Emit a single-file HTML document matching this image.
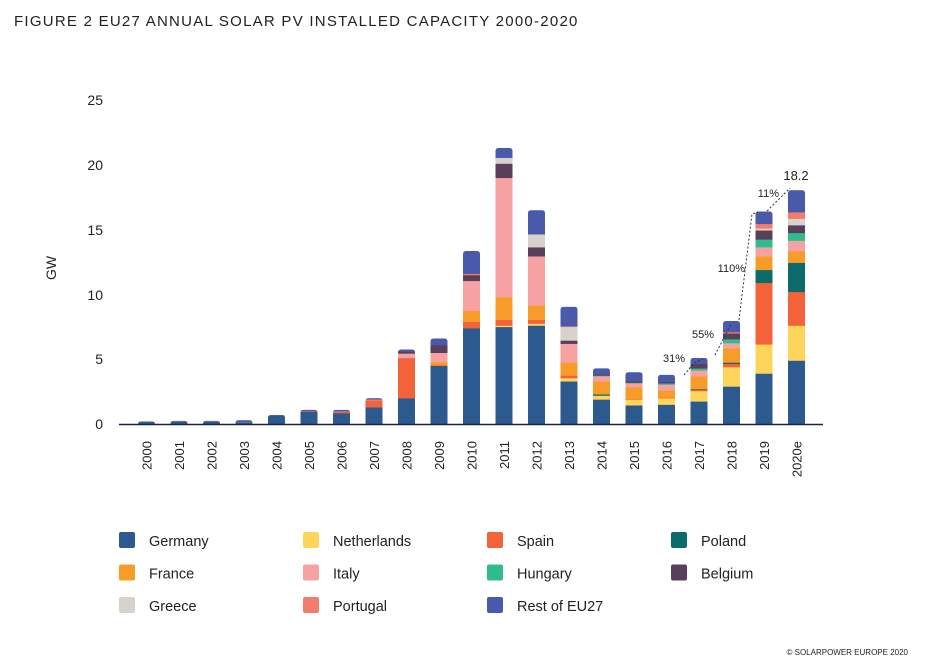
<!DOCTYPE html>
<html><head><meta charset="utf-8"><style>
body{margin:0;background:#fff;}
svg text{font-family:"Liberation Sans",sans-serif;fill:#222;}
</style></head><body>
<svg id="s" width="934" height="663" xmlns="http://www.w3.org/2000/svg">
<text x="14" y="26" font-size="15" letter-spacing="1.25">FIGURE 2 EU27 ANNUAL SOLAR PV INSTALLED CAPACITY 2000-2020</text>
<g font-size="14" text-anchor="end">
<text x="103" y="105">25</text><text x="103" y="170">20</text><text x="103" y="235">15</text>
<text x="103" y="300">10</text><text x="103" y="364">5</text><text x="103" y="429">0</text>
</g>
<text transform="translate(56,268) rotate(-90)" font-size="14" text-anchor="middle">GW</text>
<g id="bars"></g>
<line x1="119" y1="424.5" x2="823" y2="424.5" stroke="#1a2540" stroke-width="1.5"/>
<g fill="none" stroke="#2a3550" stroke-width="1" stroke-dasharray="2,2">
<polyline points="684,375 694,363 703,359"/>
<polyline points="715,355 731,324"/>
<polyline points="739,320 752,214 758,212"/>
<polyline points="767,211 790,188"/>
</g>
<g font-size="11" text-anchor="end">
<text x="685" y="362">31%</text><text x="714" y="338">55%</text>
<text x="745" y="272">110%</text><text x="779" y="197">11%</text>
</g>
<text x="796" y="180" font-size="13" text-anchor="middle">18.2</text>
<g id="xl" font-size="13"></g>
<g id="lg" font-size="14.5"></g>
<text x="908" y="655" font-size="8" text-anchor="end">© SOLARPOWER EUROPE 2020</text>
</svg>
<script>
var C=['#2d5a8e','#fdd55a','#f4623a','#0e6b6b','#f89c29','#f6a2a3','#2fbd8c','#5a3f5a','#d8d2cc','#f47c6a','#4a5aaa'];
var D=[
[0.15,0,0,0,0,0,0,0,0,0,0.05],
[0.18,0,0,0,0,0,0,0,0,0.02,0.05],
[0.18,0,0,0,0,0,0,0,0,0.02,0.05],
[0.15,0,0,0,0,0.02,0,0,0,0,0.13],
[0.65,0,0,0,0,0,0,0,0,0,0.05],
[0.95,0,0.05,0,0,0,0,0,0,0,0.1],
[0.85,0,0.12,0,0,0.02,0,0,0,0,0.11],
[1.3,0,0.55,0,0,0.05,0,0,0,0,0.1],
[2.0,0,3.1,0,0,0.35,0,0.15,0,0,0.15],
[4.5,0,0.05,0,0.25,0.7,0,0.6,0,0,0.5],
[7.4,0,0.5,0,0.85,2.3,0,0.45,0,0.1,1.75],
[7.5,0.1,0.45,0,1.75,9.2,0,1.1,0.45,0,0.75],
[7.6,0.15,0.3,0,1.1,3.8,0,0.7,1.0,0,1.85],
[3.3,0.25,0.2,0,1.0,1.45,0,0.25,1.05,0.05,1.5],
[1.9,0.3,0,0.1,1.0,0.4,0.05,0.1,0,0,0.45],
[1.45,0.45,0.05,0,0.9,0.3,0.05,0.1,0,0,0.7],
[1.5,0.5,0.05,0,0.55,0.45,0.1,0.1,0,0,0.55],
[1.75,0.8,0.1,0.05,1.0,0.45,0.15,0.35,0,0,0.45],
[2.9,1.5,0.25,0.1,1.1,0.4,0.3,0.45,0,0.1,0.85],
[3.9,2.25,4.75,1.0,1.05,0.7,0.6,0.7,0.15,0.35,0.95],
[4.9,2.7,2.6,2.25,0.9,0.8,0.6,0.6,0.5,0.5,1.7]];
var ns='http://www.w3.org/2000/svg',b=document.getElementById('bars'),xl=document.getElementById('xl');
function el(t,a,p){var e=document.createElementNS(ns,t);for(var k in a)e.setAttribute(k,a[k]);p.appendChild(e);return e;}
var k=12.96,w=17;
D.forEach(function(d,i){
 var cx=146.5+i*32.5,x=cx-w/2,y=424,tot=d.reduce(function(a,b){return a+b},0);
 var cp=el('clipPath',{id:'c'+i},b);
 el('path',{d:'M'+x+' 424 V'+(424-tot*k+3)+' q0 -3 3 -3 H'+(x+w-3)+' q3 0 3 3 V424 Z'},cp);
 var g=el('g',{'clip-path':'url(#c'+i+')'},b);
 d.forEach(function(v,j){if(v<=0)return;var h=v*k;y-=h;el('rect',{x:x,y:y,width:w,height:h+0.3,fill:C[j]},g);});
 var t=el('text',{transform:'translate('+(cx+5)+',441) rotate(-90)','text-anchor':'end'},xl);
 t.textContent=i==20?'2020e':(2000+i);
});
var L=[['Germany',0],['Netherlands',1],['Spain',2],['Poland',3],['France',4],['Italy',5],['Hungary',6],['Belgium',7],['Greece',8],['Portugal',9],['Rest of EU27',10]];
var lg=document.getElementById('lg');
L.forEach(function(l,i){var r=Math.floor(i/4),c=i%4,x=119+c*184,y=532+r*32.5;
 el('rect',{x:x,y:y,width:16,height:16,rx:2,fill:C[l[1]]},lg);
 var t=el('text',{x:x+30,y:y+14},lg);t.textContent=l[0];});
</script>
</body></html>
